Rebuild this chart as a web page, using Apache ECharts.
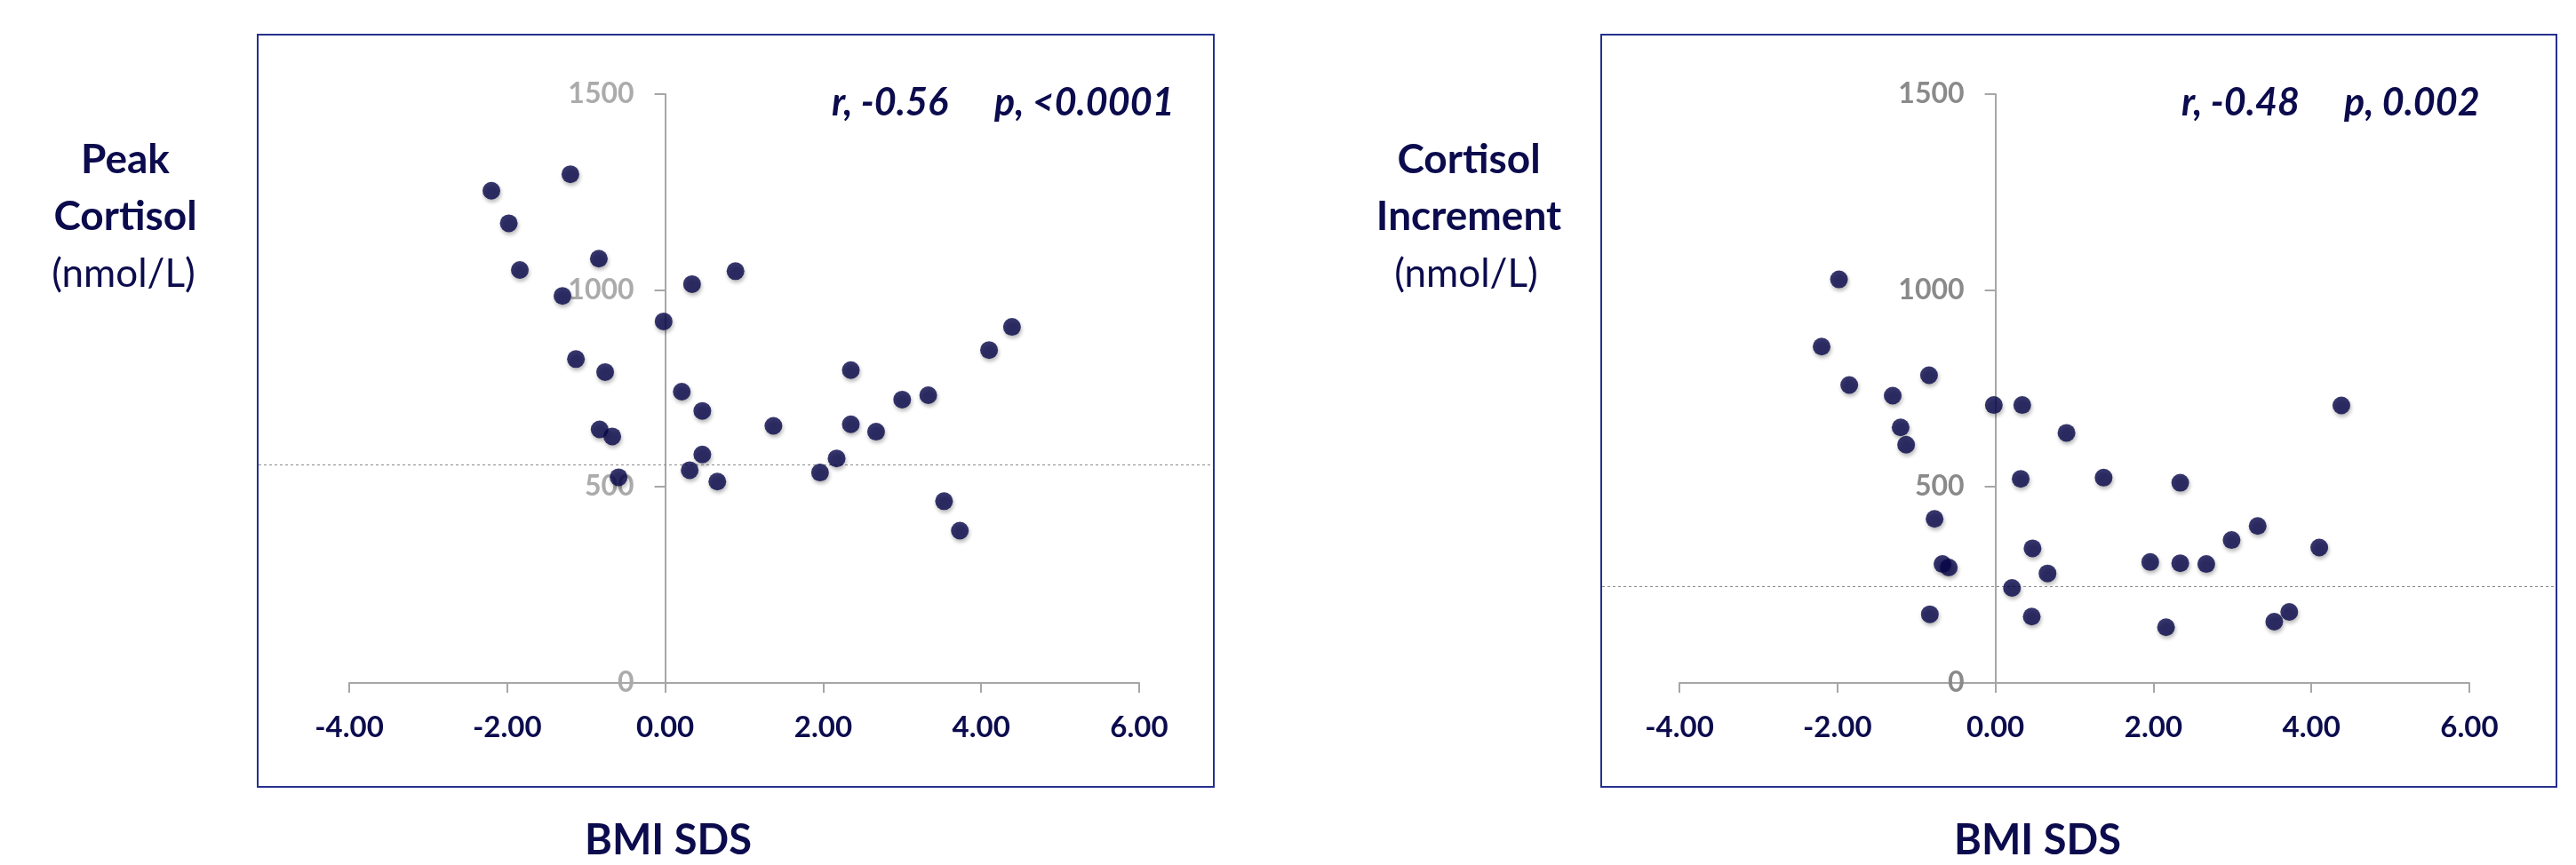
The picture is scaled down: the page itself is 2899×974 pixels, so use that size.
<!DOCTYPE html>
<html>
<head>
<meta charset="utf-8">
<script src="https://cdn.jsdelivr.net/npm/echarts@6/dist/echarts.min.js"></script>
<style>
html,body{margin:0;padding:0;background:#fff;}
#chart{width:2899px;height:974px;}
</style>
</head>
<body>
<div id="chart"></div>
<script>
// ---- data ----
const peakX = [-2.20,-1.20,-1.98,-1.84,-0.84,-1.30,0.34,0.89,-0.02,-1.13,-0.76,0.21,0.47,1.37,2.35,2.35,2.67,3.00,3.33,4.10,4.39,-0.83,-0.67,0.47,0.31,-0.59,0.66,1.96,2.17,3.53,3.73];
const peakY = [1254,1296,1171,1052,1081,986,1016,1049,921,825,792,742,693,655,797,659,640,722,733,848,907,646,628,582,542,524,513,536,572,463,388];
const incX = [-1.98,-2.20,-1.85,-1.30,-0.84,-1.20,-1.13,-0.02,0.34,0.90,0.32,1.37,2.34,-0.77,-0.67,-0.59,0.47,0.66,0.21,-0.83,0.46,1.96,2.34,2.67,2.99,3.32,4.10,4.38,2.16,3.53,3.72];
const incY = [1028,857,759,732,784,651,607,708,708,637,520,523,510,418,303,294,343,279,242,175,169,308,305,303,364,400,345,707,142,156,181];
const peakRef = 555;
const incRef = 247;
const xTickLabels = ['-4.00','-2.00','0.00','2.00','4.00','6.00'];
const yTickLabels = ['0','500','1000','1500'];
const leftTitle = ['Peak','Cortisol','(nmol/L)'];
const rightTitle = ['Cortisol','Increment','(nmol/L)'];
const leftStats = ['r, -0.56','p, <0.0001'];
const rightStats = ['r, -0.48','p, 0.002'];
const xName = 'BMI SDS';

// ---- build ----
const NAVY = '#0b0b4d';
const DOT = '#06064a';
const FRAME = '#25308e';
const AXIS = '#a6a6a6';
const FONT = 'Lato';
const X_MIN = -4, X_MAX = 6, Y_MIN = 0, Y_MAX = 1500;
const GRID_W = 889, GRID_H = 663;

function zip(xs, ys){ return xs.map((x,i)=>[x, ys[i]]); }

function xAxisMain(gi){
  return {
    type:'value', gridIndex:gi, min:X_MIN, max:X_MAX, interval:2,
    axisLine:{show:true, onZero:false, lineStyle:{color:AXIS, width:2}},
    axisTick:{show:true, inside:false, length:11, lineStyle:{color:AXIS, width:2}},
    splitLine:{show:false},
    axisLabel:{margin:34, color:NAVY, fontFamily:FONT, fontWeight:'bold', fontSize:33,
      formatter:v=>{const i=Math.round((v-X_MIN)/2); return xTickLabels[i]!==undefined?xTickLabels[i]:v.toFixed(2);}}
  };
}
// y axis crosses the x axis at x = 0: shift it into the grid by the scale distance of 0 from X_MIN
const yAxisShift = -((0 - X_MIN) / (X_MAX - X_MIN)) * GRID_W;
function yAxisMain(gi, labelColor){
  return {
    type:'value', gridIndex:gi, min:Y_MIN, max:Y_MAX, interval:500,
    position:'left', offset:yAxisShift,
    axisLine:{show:true, onZero:false, lineStyle:{color:AXIS, width:2}},
    axisTick:{show:true, inside:false, length:12, lineStyle:{color:AXIS, width:2}},
    splitLine:{show:false},
    axisLabel:{margin:35, color:labelColor, fontFamily:FONT, fontWeight:'bold', fontSize:32, padding:[6,0,0,0],
      formatter:v=>{const i=Math.round(v/500); return yTickLabels[i]!==undefined?yTickLabels[i]:String(v);}}
  };
}
function hiddenX(gi){ return {type:'value', gridIndex:gi, min:0, max:1, show:false}; }
function hiddenY(gi){ return {type:'value', gridIndex:gi, min:Y_MIN, max:Y_MAX, show:false}; }

const dotStyle = {
  color:DOT, shadowBlur:4, shadowColor:'rgba(0,0,0,0.35)', shadowOffsetX:1, shadowOffsetY:3
};

function refSeries(gi, val){
  return {
    type:'line', xAxisIndex:gi, yAxisIndex:gi, data:[], z:1, silent:true,
    markLine:{symbol:['none','none'], silent:true, label:{show:false},
      lineStyle:{color:'#8c8c8c', width:1, type:[3,3]},
      data:[{yAxis:val}]}
  };
}

function textEl(x, y, txt, size, weight, style, align){
  return {type:'text', x:x, y:y, z:10, style:{text:txt, fill:NAVY, fontFamily:FONT, fontSize:size,
    fontWeight:weight, fontStyle:style||'normal', align:align||'center', verticalAlign:'middle'}};
}

const graphics = [
  {type:'rect', shape:{x:290, y:39, width:1076, height:847}, style:{fill:'none', stroke:FRAME, lineWidth:2}, z:0},
  {type:'rect', shape:{x:1802, y:39, width:1075, height:847}, style:{fill:'none', stroke:FRAME, lineWidth:2}, z:0},
  textEl(141, 180, leftTitle[0], 46, 'bold'),
  textEl(141, 244, leftTitle[1], 46, 'bold'),
  textEl(139, 309, leftTitle[2], 44, 'normal'),
  textEl(1653, 180, rightTitle[0], 46, 'bold'),
  textEl(1653, 244, rightTitle[1], 46, 'bold'),
  textEl(1650, 309, rightTitle[2], 44, 'normal'),
  textEl(936, 116, leftStats[0], 43, 'bold', 'italic', 'left'),
  textEl(1119, 116, leftStats[1], 43, 'bold', 'italic', 'left'),
  textEl(2455, 116, rightStats[0], 43, 'bold', 'italic', 'left'),
  textEl(2638, 116, rightStats[1], 43, 'bold', 'italic', 'left'),
  textEl(752, 947, xName, 47, 'bold'),
  textEl(2293, 947, xName, 47, 'bold')
];

const option = {
  animation:false,
  backgroundColor:'#fff',
  grid:[
    {left:393, top:106, width:GRID_W, height:GRID_H},
    {left:1890, top:106, width:GRID_W, height:GRID_H},
    {left:291, top:106, width:1074, height:GRID_H},
    {left:1803, top:106, width:1073, height:GRID_H}
  ],
  xAxis:[xAxisMain(0), xAxisMain(1), hiddenX(2), hiddenX(3)],
  yAxis:[yAxisMain(0,'#ababab'), yAxisMain(1,'#8a8a8a'), hiddenY(2), hiddenY(3)],
  series:[
    refSeries(2, peakRef),
    refSeries(3, incRef),
    {type:'scatter', xAxisIndex:0, yAxisIndex:0, data:zip(peakX, peakY), symbol:'circle', symbolSize:20, itemStyle:dotStyle, z:5},
    {type:'scatter', xAxisIndex:1, yAxisIndex:1, data:zip(incX, incY), symbol:'circle', symbolSize:20, itemStyle:dotStyle, z:5}
  ],
  graphic:graphics
};

const chart = echarts.init(document.getElementById('chart'), null, {renderer:'canvas'});
chart.setOption(option);
</script>
</body>
</html>
